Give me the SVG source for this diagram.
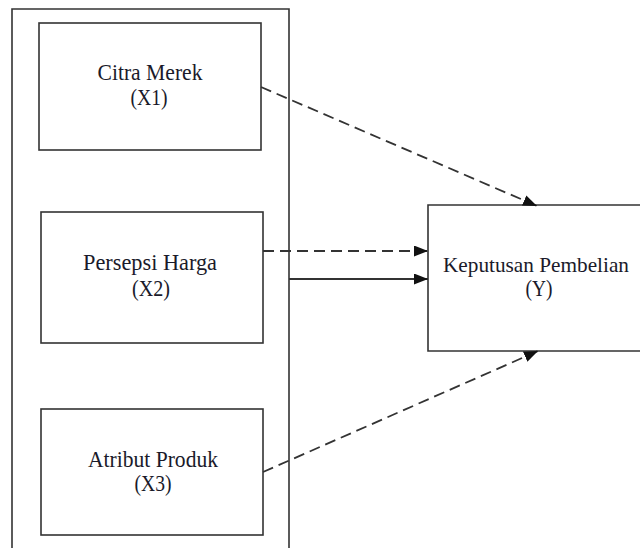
<svg xmlns="http://www.w3.org/2000/svg" width="640" height="548" viewBox="0 0 640 548">
<style>
.box{fill:none;stroke:#333;stroke-width:1.6}
.t{font-family:"Liberation Serif","Times New Roman",serif;font-size:24px;fill:#1a1a2a;text-anchor:middle}
.s{font-size:22px}
.c{stroke:#333;stroke-width:1.8;fill:none}
.d{stroke-dasharray:11 6}
</style>
<defs>
<marker id="ah" viewBox="0 0 14 11" refX="14" refY="5.5" markerWidth="14" markerHeight="11" markerUnits="userSpaceOnUse" orient="auto">
<path d="M0,0 L14,5.5 L0,11 z" fill="#111"/>
</marker>
</defs>
<rect fill="#fff" width="640" height="548"/>
<g id="outer"><path class="box" d="M12,548 V9 H289 V548"/></g>
<g id="x1">
<rect class="box" x="39" y="23" width="222" height="127"/>
<text class="t" x="150" y="80" textLength="105" lengthAdjust="spacingAndGlyphs">Citra Merek</text>
<text class="t" x="149" y="105" textLength="37" lengthAdjust="spacingAndGlyphs">(X1)</text>
</g>
<g id="x2">
<rect class="box" x="41" y="212" width="222" height="131"/>
<text class="t" x="150" y="270" textLength="134" lengthAdjust="spacingAndGlyphs">Persepsi  Harga</text>
<text class="t" x="151" y="296" textLength="38" lengthAdjust="spacingAndGlyphs">(X2)</text>
</g>
<g id="x3">
<rect class="box" x="41" y="409" width="222" height="126"/>
<text class="t" x="153" y="467" textLength="130" lengthAdjust="spacingAndGlyphs">Atribut Produk</text>
<text class="t" x="153" y="491" textLength="37" lengthAdjust="spacingAndGlyphs">(X3)</text>
</g>
<g id="y">
<path class="box" d="M640,205 H428 V351 H640"/>
<text class="t s" x="536" y="272" textLength="186" lengthAdjust="spacingAndGlyphs">Keputusan  Pembelian</text>
<text class="t" x="539" y="296" textLength="27" lengthAdjust="spacingAndGlyphs">(Y)</text>
</g>
<g id="connectors">
<line class="c d" x1="261" y1="87" x2="537" y2="206" marker-end="url(#ah)"/>
<line class="c d" x1="263" y1="251" x2="428" y2="251" marker-end="url(#ah)"/>
<line class="c" x1="289" y1="279" x2="428" y2="279" marker-end="url(#ah)"/>
<line class="c d" x1="263" y1="472" x2="538" y2="351" marker-end="url(#ah)"/>
</g>
</svg>
